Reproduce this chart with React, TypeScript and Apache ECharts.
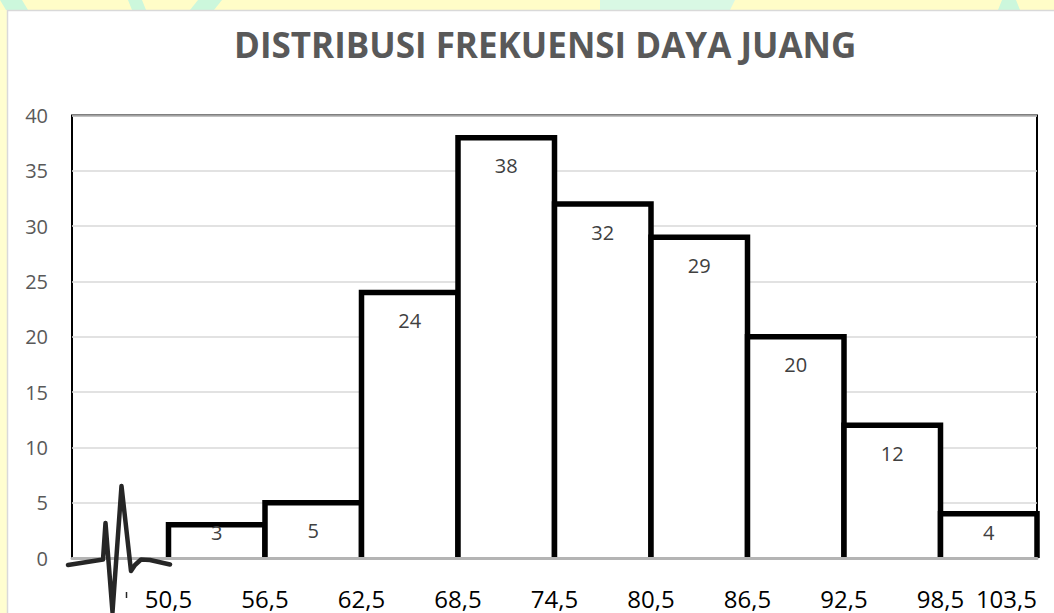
import React, { useEffect, useRef } from "react";
import * as echarts from "echarts";

const titleText = "DISTRIBUSI FREKUENSI DAYA JUANG";
const binEdges = ["50,5", "56,5", "62,5", "68,5", "74,5", "80,5", "86,5", "92,5", "98,5", "103,5"];
const classLabels = ["", "50,5–56,5", "56,5–62,5", "62,5–68,5", "68,5–74,5", "74,5–80,5", "80,5–86,5", "86,5–92,5", "92,5–98,5", "98,5–103,5"];
const frequencies = [3, 5, 24, 38, 32, 29, 20, 12, 4];
const yTicks = { min: 0, max: 40, interval: 5 };

const FONT = "'Open Sans', 'Noto Sans', sans-serif";

export default function App() {
  const ref = useRef<HTMLDivElement>(null);
  useEffect(() => {
    if (!ref.current) return;
    const chart = echarts.init(ref.current, null, { renderer: "svg" });

    const barData = frequencies.map((v, i) => [i + 1, v]);

    const ecg = [
      [68, 565], [103, 559.5], [105.5, 523], [112.5, 612], [121.5, 486],
      [131, 571], [135, 565], [141, 559.5], [150, 560], [170, 564.5],
    ];

    chart.setOption({
      animation: false,
      backgroundColor: "#fffed0",
      title: {
        text: titleText,
        left: 234,
        top: 27,
        padding: 0,
        textStyle: { fontFamily: FONT, fontSize: 35, fontWeight: "bold", color: "#595959" },
      },
      grid: {
        left: 72,
        right: 17,
        top: 115.5,
        bottom: 55,
        show: true,
        borderColor: "#000",
        borderWidth: 2,
        backgroundColor: "#fff",
      },
      xAxis: [
        {
          type: "category",
          data: classLabels,
          z: 5,
          axisLine: { show: true, lineStyle: { color: "#b4b4b4", width: 3 } },
          axisTick: { show: false },
          axisLabel: { show: false },
          splitLine: { show: false },
        },
        {
          type: "value",
          min: 0,
          max: 10,
          interval: 1,
          position: "bottom",
          axisLine: { show: false },
          axisTick: { show: false },
          splitLine: { show: false },
          axisLabel: {
            show: true,
            showMinLabel: true,
            showMaxLabel: true,
            alignMaxLabel: "right",
            margin: 28,
            lineHeight: 24,
            color: "#000",
            fontSize: 24,
            fontFamily: FONT,
            formatter: (v: number) => (v >= 1 ? binEdges[Math.round(v) - 1] : ""),
          },
        },
      ],
      yAxis: {
        type: "value",
        min: yTicks.min,
        max: yTicks.max,
        interval: yTicks.interval,
        axisLine: { show: false },
        axisTick: { show: false },
        splitLine: { show: true, lineStyle: { color: "#d9d9d9", width: 1.5 } },
        axisLabel: { margin: 24, color: "#595959", fontSize: 20, fontFamily: FONT },
      },
      series: [
        {
          type: "custom",
          xAxisIndex: 0,
          yAxisIndex: 0,
          data: barData,
          z: 2,
          renderItem: (params: any, api: any) => {
            const idx = api.value(0);
            const val = api.value(1);
            const top = api.coord([idx, val]);
            const base = api.coord([idx, 0]);
            const w = api.size([1, 0])[0];
            const x0 = top[0] - w / 2;
            const x1 = top[0] + w / 2;
            const labelY = Math.min(top[1] + 28, base[1] - 26);
            return {
              type: "group",
              children: [
                {
                  type: "rect",
                  shape: { x: x0, y: top[1], width: w, height: base[1] - top[1] },
                  style: { fill: "#fff" },
                },
                {
                  type: "polyline",
                  shape: { points: [[x0, base[1]], [x0, top[1]], [x1, top[1]], [x1, base[1]]] },
                  style: { stroke: "#000", lineWidth: 5.5, fill: null, lineJoin: "miter" },
                },
                {
                  type: "text",
                  x: top[0],
                  y: labelY,
                  style: {
                    text: String(val),
                    fill: "#404040",
                    fontSize: 20,
                    fontFamily: FONT,
                    textAlign: "center",
                    textVerticalAlign: "middle",
                  },
                },
              ],
            };
          },
        },
      ],
      graphic: [
        {
          type: "rect",
          z: -10,
          silent: true,
          shape: { x: 0, y: 0, width: 1054, height: 10 },
          style: { fill: "#fffdc8" },
        },
        { type: "polygon", z: -9, silent: true, shape: { points: [[0, 0], [22, 0], [28, 10], [6, 10]] }, style: { fill: "#ccf7dc" } },
        { type: "polygon", z: -9, silent: true, shape: { points: [[128, 0], [142, 0], [146, 10], [132, 10]] }, style: { fill: "#ccf7dc" } },
        { type: "polygon", z: -9, silent: true, shape: { points: [[198, 0], [222, 0], [214, 10], [190, 10]] }, style: { fill: "#ccf7dc" } },
        { type: "polygon", z: -9, silent: true, shape: { points: [[600, 0], [735, 0], [730, 10], [600, 10]] }, style: { fill: "#d9f8e4" } },
        { type: "polygon", z: -9, silent: true, shape: { points: [[1002, 0], [1016, 0], [1020, 10], [998, 10]] }, style: { fill: "#ccf7dc" } },
        {
          type: "rect",
          z: -5,
          silent: true,
          shape: { x: 7.5, y: 10.5, width: 1050, height: 610 },
          style: { fill: "#fff", stroke: "#d9d9d9", lineWidth: 1.5 },
        },
        {
          type: "polyline",
          z: 100,
          silent: true,
          shape: { points: ecg },
          style: { stroke: "#262626", lineWidth: 4.5, fill: null, lineJoin: "round", lineCap: "round" },
        },
        {
          type: "line",
          z: 100,
          silent: true,
          shape: { x1: 126.5, y1: 592, x2: 126.5, y2: 598 },
          style: { stroke: "#262626", lineWidth: 1.5 },
        },
      ],
    });
    return () => chart.dispose();
  }, []);

  return (
    <div
      ref={ref}
      style={{ position: "absolute", left: 0, top: 0, width: 1054, height: 613 }}
    />
  );
}
